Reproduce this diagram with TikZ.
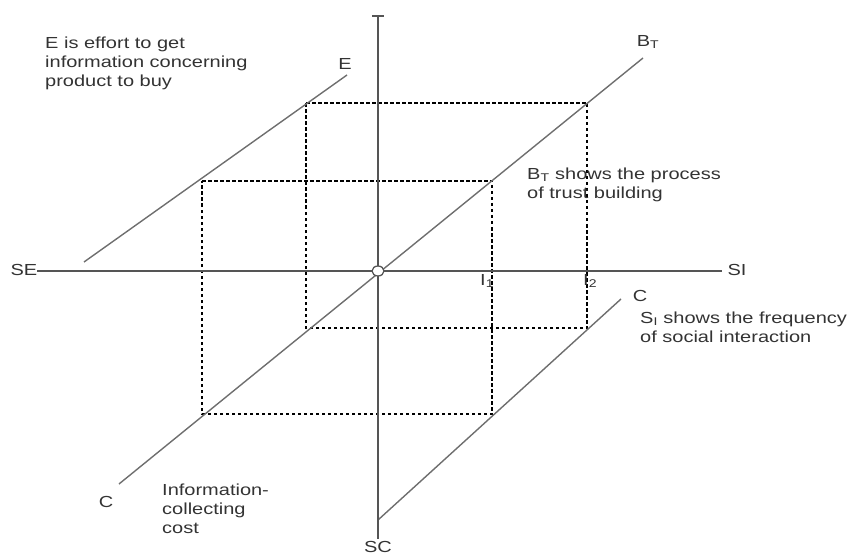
\documentclass[tikz,border=0pt]{standalone}
\usepackage{fontspec}
\setmainfont{Liberation Sans}[FakeStretch=1.25]
\usetikzlibrary{shapes.geometric}
\definecolor{axisgray}{HTML}{555555}
\definecolor{linegray}{HTML}{6E6E6E}
\definecolor{txtgray}{HTML}{333333}
\begin{document}
\begin{tikzpicture}[x=1pt,y=-1pt,
  axisline/.style={draw=axisgray,line width=1.9pt},
  curveline/.style={draw=linegray,line width=1.4pt},
  guide/.style={draw=black,line width=1.1pt,dash pattern=on 3.5pt off 2.5pt},
  lbl/.style={text=txtgray,inner sep=0pt,font=\fontsize{16}{19}\selectfont},
  note/.style={lbl,align=left,anchor=north west}]
\useasboundingbox (0,0) rectangle (851,556);
% coordinates
\coordinate (O) at (378,271);
\coordinate (vtop) at (378,16);
\coordinate (vbot) at (378,539);
\coordinate (tickL) at (372,16);
\coordinate (tickR) at (384,16);
\coordinate (hleft) at (37,271);
\coordinate (hright) at (722,271);
\coordinate (E1) at (84,262);
\coordinate (E2) at (347,75);
\coordinate (B1) at (119,484);
\coordinate (B2) at (643,58);
\coordinate (C1) at (378,520);
\coordinate (C2) at (621,299);
% outer dashed rectangle
\coordinate (o1) at (306,103);
\coordinate (o2) at (587,103);
\coordinate (o3) at (587,328);
\coordinate (o4) at (306,328);
% inner dashed rectangle
\coordinate (i1) at (202,181);
\coordinate (i2) at (492,181);
\coordinate (i3) at (492,414);
\coordinate (i4) at (202,414);
% dashed guides
\draw[guide] (o1) -- (o2) -- (o3) -- (o4) -- cycle;
\draw[guide] (i1) -- (i2) -- (i3) -- (i4) -- cycle;
% curves
\draw[curveline] (E1) -- (E2);
\draw[curveline] (B1) -- (B2);
\draw[curveline] (C1) -- (C2);
% axes
\draw[axisline] (hleft) -- (hright);
\draw[axisline] (vtop) -- (vbot);
\draw[axisline,line width=1.5pt] (tickL) -- (tickR);
\node[draw=axisgray,line width=1.3pt,fill=white,ellipse,minimum width=12pt,minimum height=10pt,inner sep=0pt] (origin) at (O) {};
% axis labels
\node[lbl] (SE) at (24,270) {SE};
\node[lbl] (SI) at (737,270) {SI};
\node[lbl] (SC) at (378,546.5) {SC};
\node[lbl] (Elbl) at (345,64) {E};
\node[lbl] (BTlbl) at (648,42) {B\textsubscript{T}};
\node[lbl] (Clow) at (106,502) {C};
\node[lbl] (Cright) at (640,296) {C};
\node[lbl,anchor=north west] (I1) at (480,274) {I\textsubscript{1}};
\node[lbl,anchor=north west] (I2) at (583,274) {I\textsubscript{2}};
% notes
\node[note] (noteE) at (45,37) {E is effort to get\\information concerning\\product to buy};
\node[note] (noteB) at (527,167.5) {B\textsubscript{T} shows the process\\of trust building};
\node[note] (noteS) at (640,311.5) {S\textsubscript{I} shows the frequency\\of social interaction};
\node[note] (noteC) at (162,484) {Information-\\collecting\\cost};
\end{tikzpicture}
\end{document}
